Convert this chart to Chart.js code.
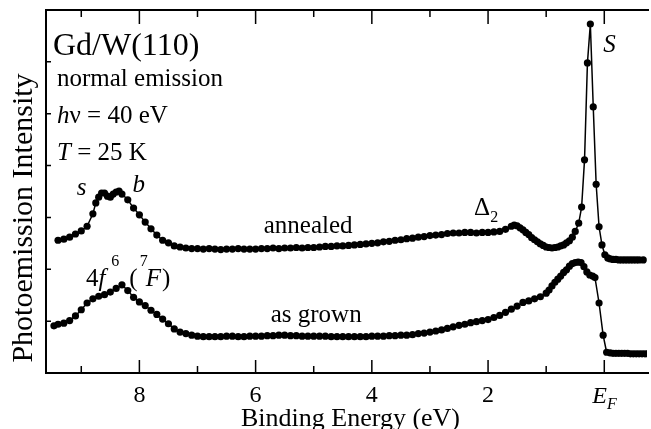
<!DOCTYPE html>
<html>
<head>
<meta charset="utf-8">
<script src="https://cdn.jsdelivr.net/npm/chart.js@4/dist/chart.umd.min.js"></script>
<style>
  body { margin: 0; background: #fff; }
  #wrap { width: 651px; height: 429px; }
</style>
</head>
<body>
<div id="wrap"><canvas id="spectra" width="651" height="429"></canvas></div>
<script>
// binding energy (eV) and intensity (arb. units)
const annealedEnergy = [9.4, 9.3, 9.2, 9.1, 9.0, 8.9, 8.8, 8.75, 8.7, 8.65, 8.6, 8.55, 8.5, 8.45, 8.4, 8.35, 8.3, 8.2, 8.1, 8.0,
  7.9, 7.8, 7.7, 7.6, 7.5, 7.4, 7.3, 7.2, 7.1, 7.0, 6.9, 6.8, 6.7, 6.6, 6.5, 6.4, 6.3, 6.2, 6.1, 6.0,
  5.9, 5.8, 5.7, 5.6, 5.5, 5.4, 5.3, 5.2, 5.1, 5.0, 4.9, 4.8, 4.7, 4.6, 4.5, 4.4, 4.3, 4.2, 4.1, 4.0,
  3.9, 3.8, 3.7, 3.6, 3.5, 3.4, 3.3, 3.2, 3.1, 3.0, 2.9, 2.8, 2.7, 2.6, 2.5, 2.4, 2.3, 2.2, 2.1, 2.0,
  1.9, 1.8, 1.7, 1.6, 1.55, 1.5, 1.45, 1.4, 1.35, 1.3, 1.25, 1.2, 1.15, 1.1, 1.05, 1.0, 0.95, 0.9, 0.85, 0.8,
  0.75, 0.7, 0.65, 0.6, 0.55, 0.5, 0.44, 0.39, 0.34, 0.29, 0.24, 0.19, 0.14, 0.09, 0.04, -0.01, -0.06, -0.1, -0.15, -0.2,
  -0.25, -0.3, -0.35, -0.4, -0.45, -0.5, -0.55, -0.6, -0.67];
const annealedIntensity = [2.56, 2.58, 2.62, 2.68, 2.74, 2.83, 3.07, 3.28, 3.39, 3.47, 3.47, 3.41, 3.39, 3.45, 3.49, 3.51, 3.45, 3.34, 3.18, 3.05,
  2.91, 2.78, 2.66, 2.56, 2.51, 2.45, 2.43, 2.41, 2.40, 2.40, 2.39, 2.40, 2.39, 2.38, 2.39, 2.39, 2.40, 2.39, 2.39, 2.39,
  2.40, 2.40, 2.41, 2.40, 2.41, 2.41, 2.42, 2.41, 2.42, 2.42, 2.43, 2.44, 2.44, 2.45, 2.45, 2.46, 2.47, 2.48, 2.49, 2.50,
  2.51, 2.53, 2.54, 2.56, 2.57, 2.59, 2.60, 2.62, 2.63, 2.65, 2.66, 2.67, 2.69, 2.70, 2.70, 2.71, 2.71, 2.70, 2.71, 2.71,
  2.72, 2.73, 2.77, 2.83, 2.85, 2.84, 2.80, 2.76, 2.71, 2.67, 2.61, 2.57, 2.53, 2.49, 2.46, 2.43, 2.42, 2.41, 2.42, 2.43,
  2.45, 2.47, 2.51, 2.55, 2.62, 2.73, 2.89, 3.20, 4.11, 5.98, 6.73, 5.13, 3.64, 2.82, 2.47, 2.28, 2.22, 2.20, 2.19, 2.19,
  2.18, 2.18, 2.18, 2.18, 2.18, 2.18, 2.18, 2.18, 2.18];

const grownEnergy = [9.47, 9.4, 9.3, 9.2, 9.1, 9.0, 8.9, 8.8, 8.7, 8.6, 8.5, 8.4, 8.3, 8.2, 8.1, 8.0, 7.9, 7.8, 7.7, 7.6,
  7.5, 7.4, 7.3, 7.2, 7.1, 7.0, 6.9, 6.8, 6.7, 6.6, 6.5, 6.4, 6.3, 6.2, 6.1, 6.0, 5.9, 5.8, 5.7, 5.6,
  5.5, 5.4, 5.3, 5.2, 5.1, 5.0, 4.9, 4.8, 4.7, 4.6, 4.5, 4.4, 4.3, 4.2, 4.1, 4.0, 3.9, 3.8, 3.7, 3.6,
  3.5, 3.4, 3.3, 3.2, 3.1, 3.0, 2.9, 2.8, 2.7, 2.6, 2.5, 2.4, 2.3, 2.2, 2.1, 2.0, 1.9, 1.8, 1.7, 1.6,
  1.5, 1.4, 1.3, 1.2, 1.1, 1.0, 0.95, 0.9, 0.85, 0.8, 0.75, 0.7, 0.65, 0.6, 0.55, 0.5, 0.45, 0.4, 0.35, 0.3,
  0.25, 0.2, 0.16, 0.09, 0.02, -0.04, -0.1, -0.15, -0.2, -0.25, -0.3, -0.35, -0.4, -0.45, -0.5, -0.55, -0.6, -0.65, -0.7, -0.75];
const grownIntensity = [0.91, 0.94, 0.96, 1.01, 1.10, 1.22, 1.35, 1.43, 1.48, 1.51, 1.56, 1.63, 1.70, 1.59, 1.46, 1.37, 1.30, 1.21, 1.13, 1.04,
  0.95, 0.85, 0.79, 0.76, 0.73, 0.71, 0.70, 0.70, 0.70, 0.70, 0.71, 0.71, 0.70, 0.70, 0.71, 0.71, 0.71, 0.72, 0.72, 0.73,
  0.73, 0.72, 0.72, 0.71, 0.71, 0.71, 0.71, 0.71, 0.70, 0.70, 0.70, 0.70, 0.70, 0.70, 0.70, 0.71, 0.71, 0.71, 0.72, 0.72,
  0.73, 0.73, 0.74, 0.76, 0.77, 0.79, 0.81, 0.83, 0.86, 0.89, 0.92, 0.94, 0.97, 0.99, 1.01, 1.03, 1.07, 1.11, 1.17, 1.23,
  1.29, 1.36, 1.39, 1.43, 1.47, 1.54, 1.60, 1.68, 1.75, 1.81, 1.87, 1.94, 1.99, 2.06, 2.11, 2.13, 2.14, 2.13, 2.05, 1.95,
  1.89, 1.87, 1.84, 1.35, 0.73, 0.40, 0.39, 0.38, 0.38, 0.38, 0.38, 0.38, 0.38, 0.37, 0.37, 0.37, 0.37, 0.37, 0.37, 0.37];

const majorTicks = [8, 6, 4, 2, 0];
const majorLabels = ['8', '6', '4', '2', 'EF'];
const minorTicks = [9, 7, 5, 3, 1];
const yTicks = [1, 2, 3, 4, 5, 6];

const serif = '"Liberation Serif", "Times New Roman", serif';

function toPoints(xs, ys) {
  return xs.map((x, i) => ({ x: x, y: ys[i] }));
}

// draw runs of text with different fonts one after another
function drawRuns(ctx, x, y, runs) {
  runs.forEach(r => {
    ctx.font = r.font;
    ctx.fillText(r.text, x + (r.dx || 0), y + (r.dy || 0));
    x += ctx.measureText(r.text).width + (r.dx || 0);
  });
}

const framePlugin = {
  id: 'frame',
  afterDatasetsDraw(chart) {
    const ctx = chart.ctx;
    const a = chart.chartArea;
    const xs = chart.scales.x;
    const ys = chart.scales.y;
    const px = v => xs.getPixelForValue(v);
    const py = v => ys.getPixelForValue(v);

    ctx.save();
    ctx.strokeStyle = '#000';
    ctx.fillStyle = '#000';

    // frame (right side falls off the picture)
    ctx.lineWidth = 2;
    ctx.beginPath();
    ctx.moveTo(a.right + 2, a.top);
    ctx.lineTo(a.left, a.top);
    ctx.lineTo(a.left, a.bottom);
    ctx.lineTo(a.right + 2, a.bottom);
    ctx.stroke();

    // inward ticks
    ctx.lineWidth = 1.5;
    ctx.beginPath();
    majorTicks.forEach(t => {
      const x = px(t);
      ctx.moveTo(x, a.bottom); ctx.lineTo(x, a.bottom - 13);
      ctx.moveTo(x, a.top); ctx.lineTo(x, a.top + 14);
    });
    minorTicks.forEach(t => {
      const x = px(t);
      ctx.moveTo(x, a.bottom); ctx.lineTo(x, a.bottom - 7);
      ctx.moveTo(x, a.top); ctx.lineTo(x, a.top + 7);
    });
    yTicks.forEach(t => {
      const y = py(t);
      ctx.moveTo(a.left, y); ctx.lineTo(a.left + 5, y);
    });
    ctx.stroke();

    // tick labels
    ctx.textBaseline = 'alphabetic';
    majorTicks.forEach((t, i) => {
      const x = px(t);
      if (majorLabels[i] === 'EF') {
        drawRuns(ctx, x - 12, a.bottom + 30, [
          { text: 'E', font: 'italic 24px ' + serif },
          { text: 'F', font: 'italic 16px ' + serif, dy: 6, dx: 0 }
        ]);
      } else {
        ctx.font = '24px ' + serif;
        ctx.textAlign = 'center';
        ctx.fillText(majorLabels[i], x, a.bottom + 29);
        ctx.textAlign = 'left';
      }
    });

    // axis titles
    ctx.font = '26px ' + serif;
    ctx.textAlign = 'center';
    ctx.fillText('Binding Energy (eV)', (a.left + a.right) / 2 + 4, a.bottom + 53);
    ctx.save();
    ctx.translate(32, 218);
    ctx.rotate(-Math.PI / 2);
    ctx.font = '30px ' + serif;
    ctx.fillText('Photoemission Intensity', 0, 0);
    ctx.restore();
    ctx.textAlign = 'left';

    // sample info block
    ctx.font = '32px ' + serif;
    ctx.fillText('Gd/W(110)', a.left + 7, a.top + 45);
    ctx.font = '25px ' + serif;
    ctx.fillText('normal emission', a.left + 11, a.top + 76);
    drawRuns(ctx, a.left + 11, a.top + 113, [
      { text: 'h', font: 'italic 25px ' + serif },
      { text: '\u03bd = 40 eV', font: '25px ' + serif }
    ]);
    drawRuns(ctx, a.left + 11, a.top + 150, [
      { text: 'T', font: 'italic 25px ' + serif },
      { text: ' = 25 K', font: '25px ' + serif }
    ]);

    // peak annotations
    ctx.font = 'italic 25px ' + serif;
    ctx.fillText('s', px(9.08), py(3.43));
    ctx.fillText('b', px(8.12), py(3.49));
    ctx.fillText('S', px(0.02), py(6.19));
    drawRuns(ctx, px(2.24), py(3.05), [
      { text: '\u0394', font: '25px ' + serif },
      { text: '2', font: '16px ' + serif, dy: 7 }
    ]);
    ctx.font = '25px ' + serif;
    ctx.fillText('annealed', px(5.86), py(2.70));
    ctx.fillText('as grown', px(5.74), py(0.98));
    drawRuns(ctx, px(8.92), py(1.68), [
      { text: '4', font: '25px ' + serif },
      { text: 'f', font: 'italic 25px ' + serif },
      { text: '6', font: '16px ' + serif, dy: -20, dx: 6 },
      { text: '(', font: '25px ' + serif, dx: 10 },
      { text: '7', font: '16px ' + serif, dy: -20, dx: 2 },
      { text: 'F', font: 'italic 25px ' + serif, dx: -2 },
      { text: ')', font: '25px ' + serif, dx: 1 }
    ]);
    ctx.restore();
  }
};

const lineStyle = {
  showLine: true,
  borderColor: '#000',
  borderWidth: 1.5,
  pointRadius: 3.6,
  pointBackgroundColor: '#000',
  pointBorderWidth: 0,
  tension: 0
};

new Chart(document.getElementById('spectra'), {
  type: 'scatter',
  data: {
    datasets: [
      Object.assign({ label: 'annealed', data: toPoints(annealedEnergy, annealedIntensity) }, lineStyle),
      Object.assign({ label: 'as grown', data: toPoints(grownEnergy, grownIntensity) }, lineStyle)
    ]
  },
  options: {
    responsive: false,
    animation: false,
    layout: { padding: { left: 46, top: 10, right: 0, bottom: 56 } },
    plugins: { legend: { display: false }, tooltip: { enabled: false } },
    scales: {
      x: { type: 'linear', reverse: true, min: -0.735, max: 9.607, display: false },
      y: { type: 'linear', min: 0, max: 7, display: false }
    }
  },
  plugins: [framePlugin]
});
</script>
</body>
</html>
